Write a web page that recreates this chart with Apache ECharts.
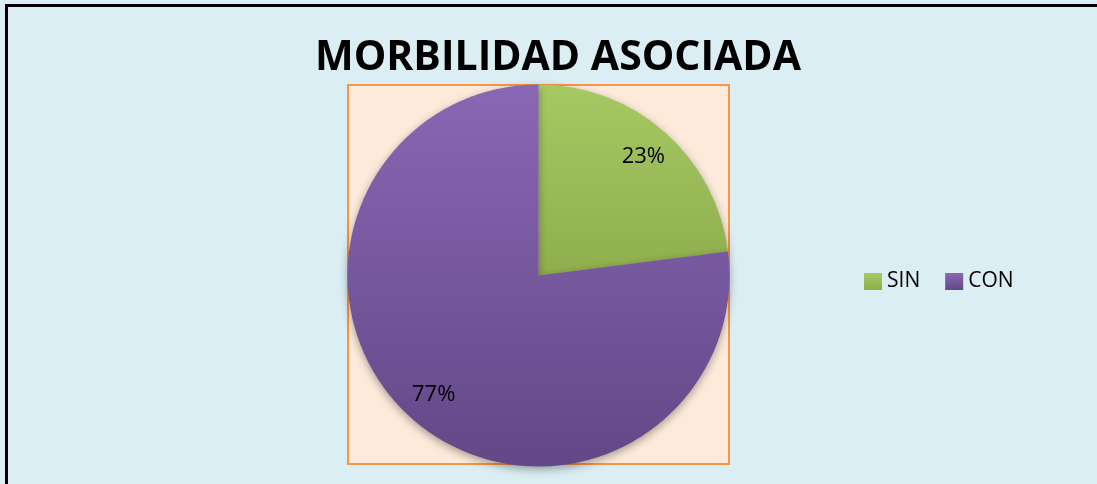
<!DOCTYPE html>
<html>
<head>
<meta charset="utf-8">
<script src="https://cdn.jsdelivr.net/npm/echarts@6/dist/echarts.min.js"></script>
<style>
    html, body { margin: 0; padding: 0; background: #dbeef3; overflow: hidden; }
    #chart { width: 1097px; height: 484px; }
</style>
</head>
<body>
<div id="chart"></div>
<script>
// 数据
const categories = ['SIN', 'CON'];
const values = [23, 77];
const labels = ['23%', '77%'];

// 颜色
const colors = {
    sin: new echarts.graphic.LinearGradient(0, 0, 0, 1, [
        { offset: 0, color: '#a6c963' },
        { offset: 1, color: '#8fae4d' }
    ]),
    con: new echarts.graphic.LinearGradient(0, 0, 0, 1, [
        { offset: 0, color: '#8a67b4' },
        { offset: 1, color: '#624887' }
    ]),
    plotFill: '#fdeada',
    plotBorder: '#f79646'
};

const center = [538.5, 275.5];
const radius = 191;

const chart = echarts.init(document.getElementById('chart'));

const pieData = categories.map((name, i) => ({
    name: name,
    value: values[i],
    itemStyle: { color: i === 0 ? colors.sin : colors.con }
}));

const option = {
    backgroundColor: '#dbeef3',
    animation: false,
    title: {
        text: 'MORBILIDAD ASOCIADA',
        left: 310,
        top: 29,
        textStyle: {
            fontFamily: 'Open Sans',
            fontWeight: 'bold',
            fontSize: 41,
            lineHeight: 48,
            color: '#000'
        }
    },
    legend: {
        data: categories,
        left: 859,
        top: 266,
        icon: 'rect',
        itemWidth: 18,
        itemHeight: 17,
        itemGap: 25,
        textStyle: {
            fontFamily: 'Open Sans',
            fontSize: 21,
            color: '#000'
        }
    },
    graphic: [
        {
            type: 'rect',
            z: -1,
            shape: { x: 348, y: 85, width: 381, height: 379 },
            style: { fill: colors.plotFill, stroke: colors.plotBorder, lineWidth: 2 }
        },
        {
            type: 'line',
            z: -1,
            shape: { x1: 6.5, y1: 4, x2: 6.5, y2: 484 },
            style: { stroke: '#000', lineWidth: 3 }
        },
        {
            type: 'line',
            z: -1,
            shape: { x1: 5, y1: 5.5, x2: 1097, y2: 5.5 },
            style: { stroke: '#000', lineWidth: 3 }
        }
    ],
    series: [
        {
            type: 'pie',
            center: center,
            radius: [0, radius],
            startAngle: 90,
            clockwise: true,
            data: pieData,
            label: { show: false },
            labelLine: { show: false },
            itemStyle: {
                shadowBlur: 8,
                shadowColor: 'rgba(0, 0, 0, 0.35)',
                shadowOffsetY: 3
            },
            emphasis: { disabled: true }
        },
        {
            // 只用来放百分比标签
            type: 'pie',
            center: center,
            radius: [120, radius],
            startAngle: 90,
            clockwise: true,
            silent: true,
            data: categories.map((name, i) => ({ name: name, value: values[i] })),
            itemStyle: { color: 'rgba(0,0,0,0)' },
            label: {
                show: true,
                position: 'inside',
                formatter: (p) => labels[p.dataIndex],
                fontFamily: 'Open Sans',
                fontSize: 22,
                color: '#000'
            },
            labelLine: { show: false },
            emphasis: { disabled: true }
        }
    ]
};

chart.setOption(option);
</script>
</body>
</html>
